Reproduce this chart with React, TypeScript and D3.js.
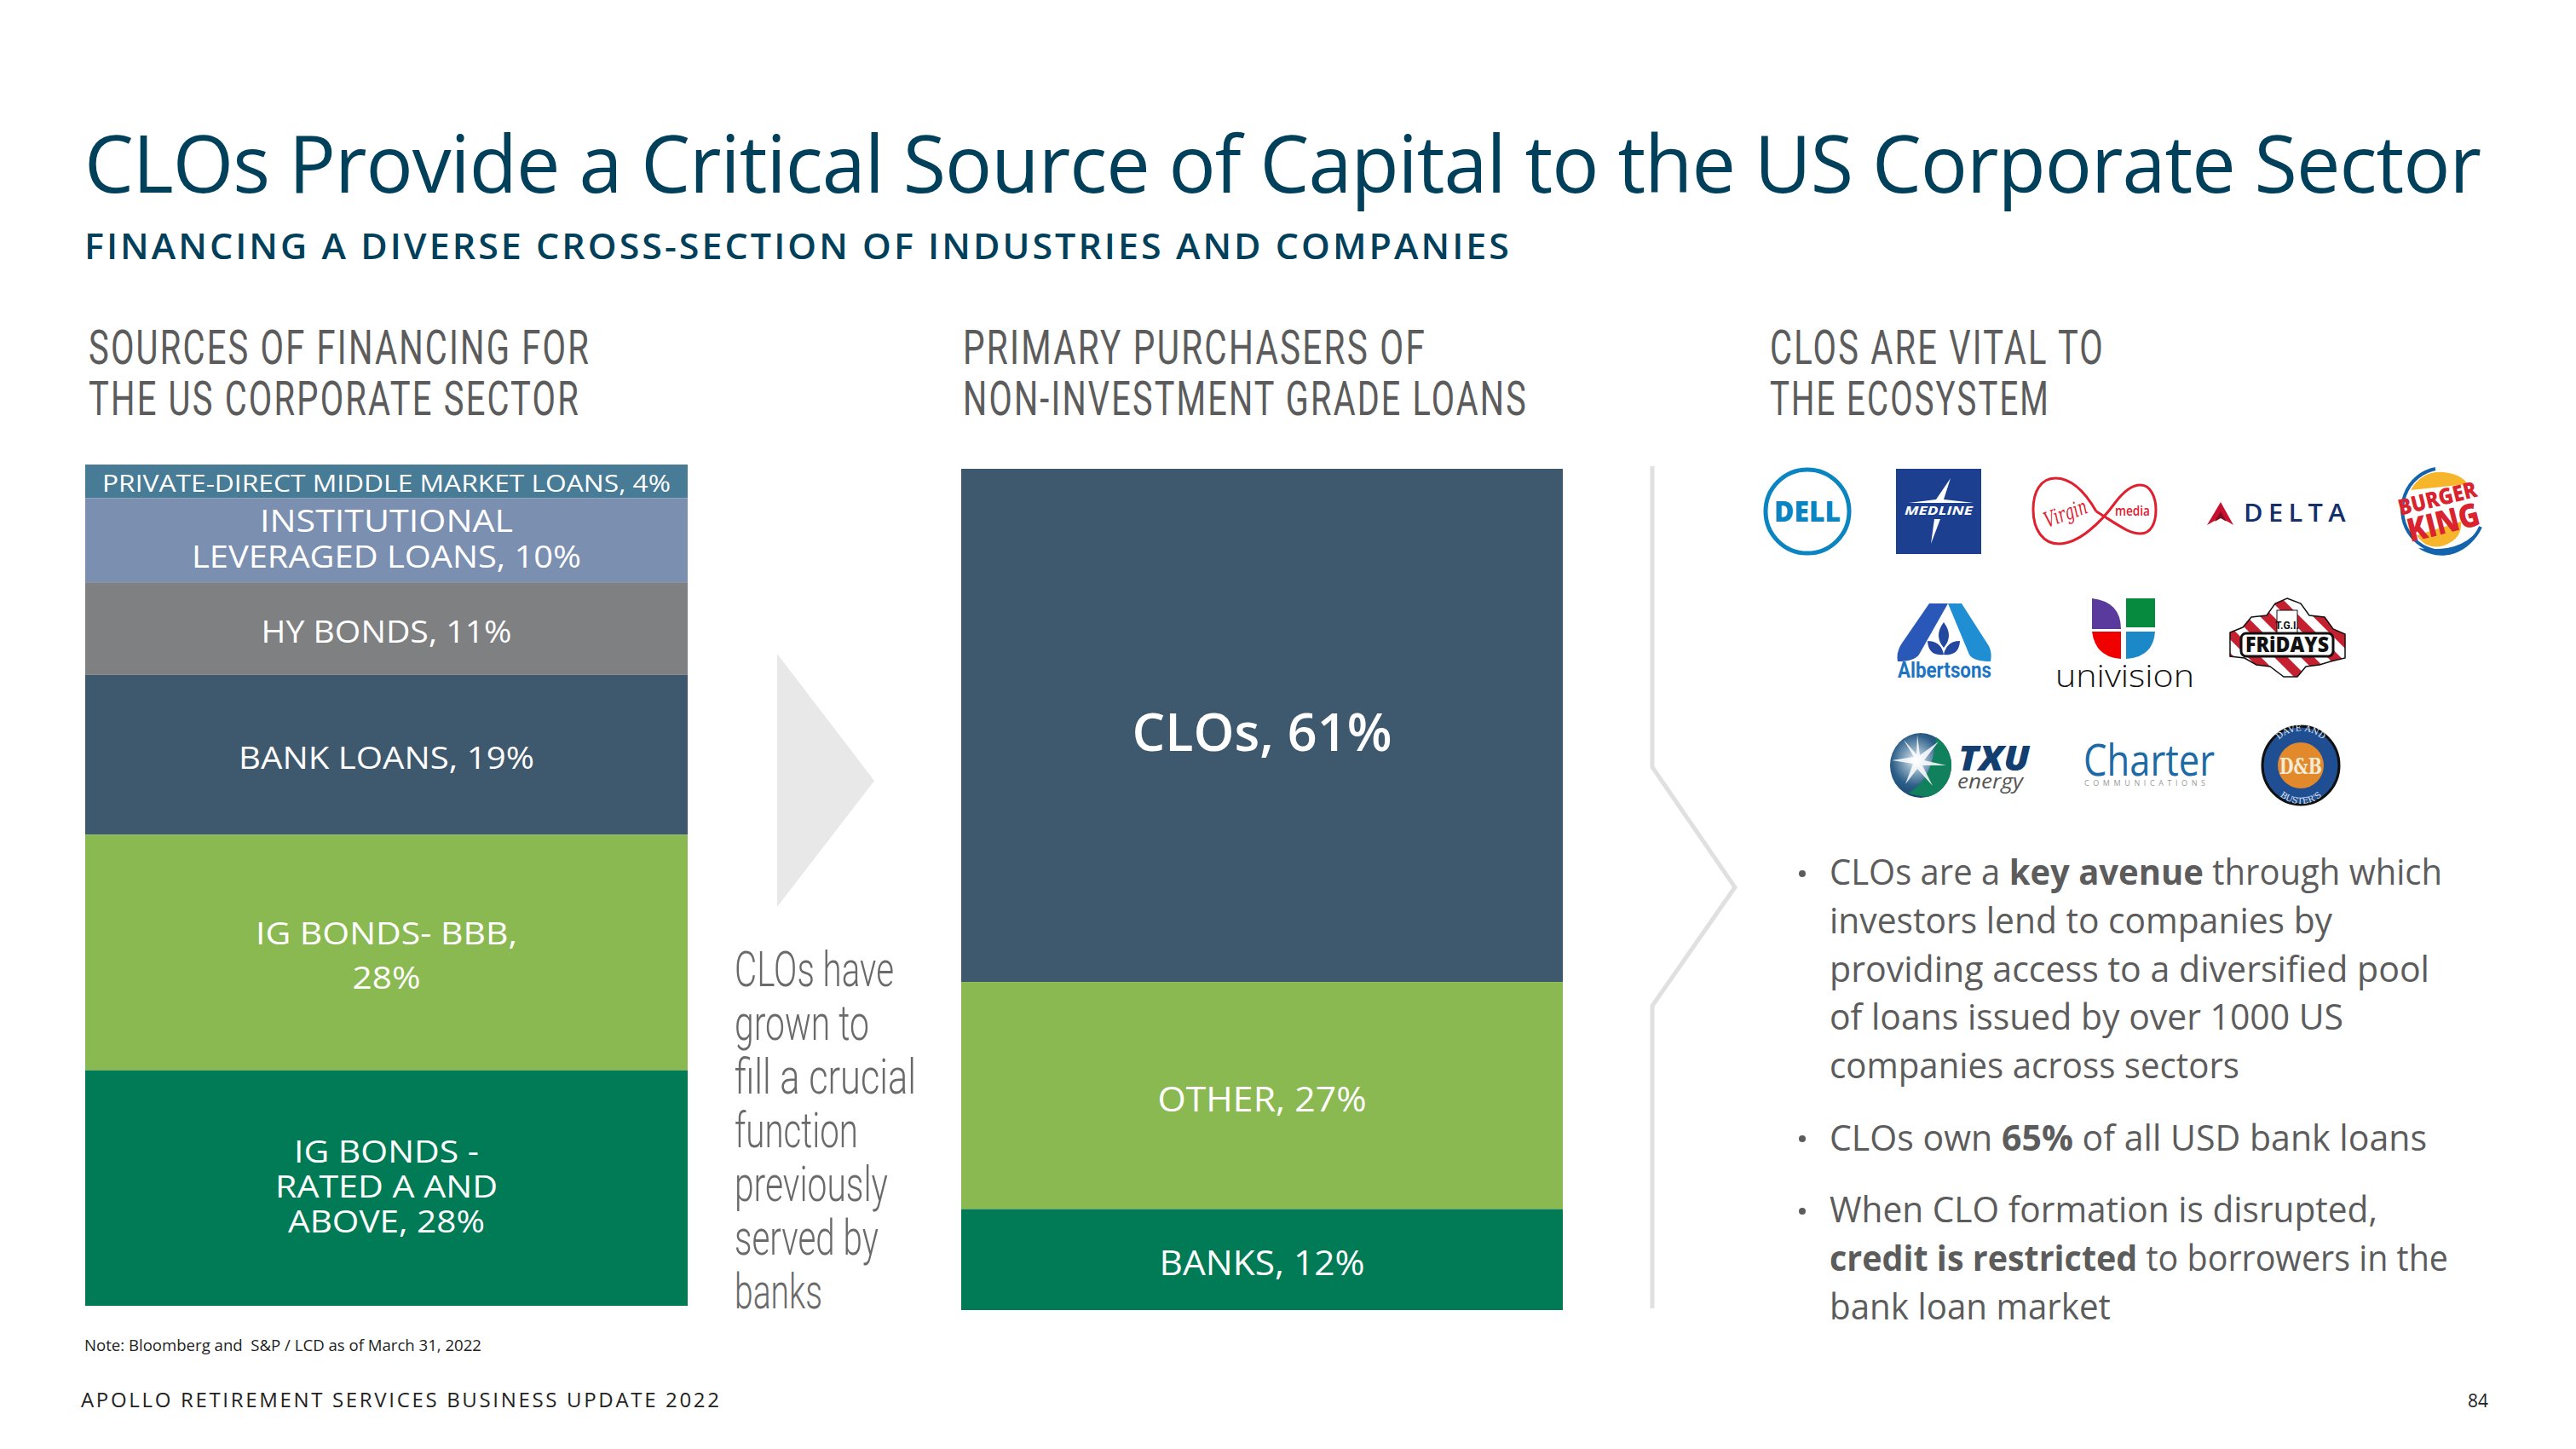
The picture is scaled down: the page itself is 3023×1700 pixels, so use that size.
import React from "react";
import * as d3 from "d3";

// Chart values
const sourceLabels = [
  ["PRIVATE-DIRECT MIDDLE MARKET LOANS, 4%"],
  ["INSTITUTIONAL", "LEVERAGED LOANS, 10%"],
  ["HY BONDS, 11%"],
  ["BANK LOANS, 19%"],
  ["IG BONDS- BBB,", "28%"],
  ["IG BONDS -", "RATED A AND", "ABOVE, 28%"],
];
const sourceValues = [4, 10, 11, 19, 28, 28];
const sourceColors = ["#477b96", "#7b8fb1", "#7f8082", "#3e586d", "#8bb951", "#007b55"];

const purchaserLabels = ["CLOs, 61%", "OTHER, 27%", "BANKS, 12%"];
const purchaserValues = [61, 27, 12];
const purchaserColors = ["#3e586d", "#8bb951", "#007b55"];

const noteLines = ["CLOs have", "grown to", "fill a crucial", "function", "previously", "served by", "banks"];

type Seg = { t: string; b?: boolean };
const bulletLines: Seg[][] = [
  [{ t: "CLOs are a " }, { t: "key avenue", b: true }, { t: " through which" }],
  [{ t: "investors lend to companies by" }],
  [{ t: "providing access to a diversified pool" }],
  [{ t: "of loans issued by over 1000 US" }],
  [{ t: "companies across sectors" }],
  [{ t: "CLOs own " }, { t: "65%", b: true }, { t: " of all USD bank loans" }],
  [{ t: "When CLO formation is disrupted," }],
  [{ t: "credit is restricted", b: true }, { t: " to borrowers in the" }],
  [{ t: "bank loan market" }],
];

// Layout, in page pixels
const W = 3023;
const H = 1700;
const SANS = "'Open Sans', sans-serif";
const NARROW = "'Liberation Sans Narrow', 'Roboto', sans-serif";
const NAVY = "#00405a";
const GREY = "#5c5c5c";

const sourceX = 100;
const sourceW = 707;
const purchaserX = 1128;
const purchaserW = 706;

const sourceY = d3.scaleLinear().domain([0, 100]).range([545, 1532]);
const purchaserY = d3.scaleLinear().domain([0, 100]).range([550, 1537]);

// baseline, text width and size for each line of the bar labels
const sourceLabelLayout = [
  [{ y: 577, w: 667, s: 28 }],
  [{ y: 624, w: 297, s: 37 }, { y: 666, w: 457, s: 37 }],
  [{ y: 754, w: 294, s: 37 }],
  [{ y: 902, w: 347, s: 37 }],
  [{ y: 1108, w: 307, s: 37 }, { y: 1160, w: 80, s: 37 }],
  [{ y: 1364, w: 217, s: 37 }, { y: 1405, w: 261, s: 37 }, { y: 1446, w: 231, s: 37 }],
];
const purchaserLabelLayout = [
  { y: 881, w: 305, s: 62 },
  { y: 1304, w: 245, s: 40 },
  { y: 1496, w: 241, s: 40 },
];
const noteLayout = [
  { y: 1157, w: 187 },
  { y: 1220, w: 158 },
  { y: 1283, w: 213 },
  { y: 1346, w: 145 },
  { y: 1409, w: 180 },
  { y: 1472, w: 169 },
  { y: 1535, w: 103 },
];
const bulletLayout = [
  { y: 1038, w: 719 },
  { y: 1095, w: 590 },
  { y: 1152, w: 704 },
  { y: 1208, w: 603 },
  { y: 1265, w: 481 },
  { y: 1350, w: 701 },
  { y: 1434, w: 643 },
  { y: 1491, w: 726 },
  { y: 1548, w: 330 },
];

function stackOf(values: number[]) {
  const ends = Array.from(d3.cumsum(values));
  return values.map((v, i) => ({ start: ends[i] - v, end: ends[i] }));
}

interface FitProps {
  x: number;
  y: number;
  w: number;
  size: number;
  fill?: string;
  weight?: number;
  family?: string;
  spacing?: number;
  anchor?: "start" | "middle";
  children: React.ReactNode;
}

// text squeezed to the width measured on the slide
const Fit: React.FC<FitProps> = ({ x, y, w, size, fill = "#fff", weight = 400, family = SANS, spacing = 0, anchor = "start", children }) => (
  <text
    x={x}
    y={y}
    fontSize={size}
    fontFamily={family}
    fontWeight={weight}
    fill={fill}
    letterSpacing={spacing}
    textAnchor={anchor}
    textLength={w}
    lengthAdjust="spacingAndGlyphs"
    style={{ whiteSpace: "pre" }}
  >
    {children}
  </text>
);

const FRIDAYS_BADGE =
  "M2684 702 L2700 708 L2710 722 L2728 724 L2738 738 L2752 744 L2752 772 L2735 776 L2722 780 L2706 782 L2696 794 L2680 794 L2664 782 L2648 780 L2634 772 L2617 770 L2617 742 L2632 736 L2642 724 L2660 722 L2670 708 Z";

const Logos: React.FC = () => (
  <g>
    <defs>
      <clipPath id="uni-a">
        <path d="M2455 702 q34 4 34 42 v-2 h-34 z" />
      </clipPath>
      <radialGradient id="txu" cx="0.42" cy="0.42" r="0.65">
        <stop offset="0" stopColor="#ffffff" />
        <stop offset="0.22" stopColor="#9db8cc" />
        <stop offset="0.6" stopColor="#2d5f88" />
        <stop offset="1" stopColor="#123f66" />
      </radialGradient>
      <pattern id="fridayStripes" width={22} height={22} patternUnits="userSpaceOnUse" patternTransform="rotate(-45)">
        <rect width={22} height={22} fill="#fff" />
        <rect width={11} height={22} fill="#c5202f" />
      </pattern>
    </defs>

    {/* Dell */}
    <circle cx={2121} cy={600} r={49} fill="#fff" stroke="#0a85c2" strokeWidth={5} />
    <text x={2121} y={612} textAnchor="middle" fontFamily={SANS} fontWeight={800} fontSize={34} fill="#0a85c2" textLength={78} lengthAdjust="spacingAndGlyphs">DELL</text>

    {/* Medline */}
    <rect x={2225} y={550} width={100} height={100} fill="#1c3f8f" />
    <path d="M2289 561 L2281 586 L2316 590 L2240 590 L2272 586 Z M2266 638 L2270 609 L2277 609 Z" fill="#fff" />
    <text x={2275} y={604} textAnchor="middle" fontFamily={SANS} fontStyle="italic" fontWeight={700} fontSize={15} fill="#fff" textLength={80} lengthAdjust="spacingAndGlyphs">MEDLINE</text>

    {/* Virgin media */}
    <path
      d="M2460 600 C2444 572 2428 561 2412 561 C2394 561 2386 578 2386 598 C2386 622 2398 638 2416 638 C2440 638 2466 612 2482 590 C2494 574 2505 569 2512 569 C2524 569 2530 584 2530 598 C2530 614 2524 626 2512 626 C2498 626 2486 616 2460 600"
      fill="none"
      stroke="#e0202f"
      strokeWidth={3}
    />
    <text x={2397} y={612} fontFamily="'DejaVu Serif', serif" fontStyle="italic" fontSize={25} fill="#e0202f" textLength={52} lengthAdjust="spacingAndGlyphs" transform="rotate(-20 2420 600)">Virgin</text>
    <text x={2482} y={605} fontFamily={SANS} fontWeight={600} fontSize={16} fill="#e0202f" textLength={41} lengthAdjust="spacingAndGlyphs">media</text>

    {/* Delta */}
    <path d="M2606 589 L2621 616 L2606 607 L2590 616 Z" fill="#c8102e" />
    <path d="M2606 600 L2613 612 L2606 608 L2599 612 Z" fill="#7a1020" />
    <text x={2633} y={612} fontFamily={SANS} fontWeight={600} fontSize={29} fill="#14306b" letterSpacing={6} textLength={126} lengthAdjust="spacingAndGlyphs">DELTA</text>

    {/* Burger King */}
    <path d="M2858 550 A48 49 0 1 0 2911 618" fill="none" stroke="#1464ad" strokeWidth={4} />
    <path d="M2911 618 A48 49 0 0 1 2838 643 Q2890 650 2911 618 Z" fill="#1464ad" />
    <path d="M2829 575 Q2842 552 2868 554 Q2888 556 2896 568 Z" fill="#f7b52c" />
    <path d="M2836 628 L2888 612 Q2890 632 2868 640 Q2848 646 2836 628 Z" fill="#f7b52c" />
    <g transform="rotate(-14 2862 600)" fontFamily={SANS} fontWeight={800} fill="#d9232e">
      <text x={2864} y={594} textAnchor="middle" fontSize={26} textLength={94} lengthAdjust="spacingAndGlyphs">BURGER</text>
      <text x={2864} y={627} textAnchor="middle" fontSize={38} textLength={86} lengthAdjust="spacingAndGlyphs">KING</text>
    </g>

    {/* Albertsons */}
    <path d="M2264 708 h22 l-34 60 q-6 8 -25 8 q-2 -10 4 -20 z" fill="#2a58b8" />
    <path d="M2286 708 h16 l32 50 q4 8 2 18 q-20 0 -25 -8 z" fill="#1f8ed3" />
    <path d="M2281 730 q12 16 0 30 q-12 -14 0 -30 z M2262 752 q16 0 19 16 q-18 2 -19 -16 z M2300 752 q-16 0 -19 16 q18 2 19 -16 z" fill="#24479f" />
    <text x={2227} y={795} fontFamily={NARROW} fontWeight={700} fontSize={26} fill="#1d74c4" textLength={110} lengthAdjust="spacingAndGlyphs">Albertsons</text>

    {/* Univision */}
    <path d="M2455 702 q34 4 34 36 h-34 z" fill="#5a3a9d" />
    <rect x={2495} y={702} width={34} height={34} fill="#058a3e" />
    <path d="M2455 741 h34 v32 q-30 -2 -34 -32 z" fill="#f00000" />
    <path d="M2495 741 h34 q-2 30 -34 32 z" fill="#1b88c8" />
    <text x={2412} y={806} fontFamily={SANS} fontWeight={300} fontSize={36} fill="#111" textLength={163} lengthAdjust="spacingAndGlyphs">univision</text>

    {/* TGI Fridays */}
    <path d={FRIDAYS_BADGE} fill="url(#fridayStripes)" stroke="#111" strokeWidth={1.5} />
    <rect x={2672} y={716} width={24} height={30} fill="#fff" stroke="#111" strokeWidth={1} />
    <rect x={2630} y={743} width={108} height={27} rx={6} fill="#fff" stroke="#111" strokeWidth={3} />
    <text x={2684} y={738} textAnchor="middle" fontFamily={NARROW} fontWeight={700} fontSize={12} fill="#111">T.G.I.</text>
    <text x={2684} y={765} textAnchor="middle" fontFamily={SANS} fontWeight={800} fontSize={24} fill="#111" textLength={98} lengthAdjust="spacingAndGlyphs">FRiDAYS</text>

    {/* TXU */}
    <ellipse cx={2254} cy={898} rx={36} ry={38} fill="url(#txu)" />
    <path d="M2272 865 A36 38 0 0 1 2262 935 Q2240 932 2240 930 Q2268 915 2272 865 Z" fill="#11805c" />
    <path d="M2250 862 L2253 886 L2275 870 L2258 892 L2284 898 L2256 898 L2268 922 L2250 902 L2236 920 L2245 896 L2220 892 L2246 888 L2234 868 L2249 885 Z" fill="#fff" opacity={0.85} />
    <text x={2298} y={904} fontFamily={SANS} fontStyle="italic" fontWeight={800} fontSize={40} fill="#123f70" textLength={84} lengthAdjust="spacingAndGlyphs">TXU</text>
    <text x={2297} y={925} fontFamily={SANS} fontStyle="italic" fontSize={24} fill="#555" textLength={77} lengthAdjust="spacingAndGlyphs">energy</text>

    {/* Charter */}
    <text x={2445} y={910} fontFamily={SANS} fontWeight={500} fontSize={52} fill="#1d6aa5" textLength={154} lengthAdjust="spacingAndGlyphs">Charter</text>
    <text x={2446} y={922} fontFamily={SANS} fontSize={9} fill="#9a9a9a" textLength={142}>COMMUNICATIONS</text>

    {/* Dave & Buster's */}
    <ellipse cx={2700} cy={898} rx={45} ry={46} fill="#1f4e92" stroke="#111" strokeWidth={3} />
    <circle cx={2700} cy={898} r={27} fill="#e28a2b" />
    <text x={2700} y={908} textAnchor="middle" fontFamily="'DejaVu Serif', serif" fontWeight={700} fontSize={26} fill="#f4ead6" textLength={50} lengthAdjust="spacingAndGlyphs">D&amp;B</text>
    <path id="dbTop" d="M2665 885 A36 36 0 0 1 2735 885" fill="none" />
    <path id="dbBottom" d="M2662 905 A38 38 0 0 0 2738 905" fill="none" />
    <text fontFamily="'DejaVu Serif', serif" fontSize={10} fill="#dfe7f2"><textPath href="#dbTop" startOffset="50%" textAnchor="middle">DAVE AND</textPath></text>
    <text fontFamily="'DejaVu Serif', serif" fontSize={10} fill="#dfe7f2"><textPath href="#dbBottom" startOffset="50%" textAnchor="middle">BUSTER'S</textPath></text>
  </g>
);

export default function App() {
  const sourceBands = stackOf(sourceValues);
  const purchaserBands = stackOf(purchaserValues);
  const sourceMid = sourceX + sourceW / 2;
  const purchaserMid = purchaserX + purchaserW / 2;
  const divider = d3.line()([
    [1939, 547],
    [1939, 900],
    [2036, 1041],
    [1939, 1180],
    [1939, 1535],
  ]) as string;

  return (
    <svg width={W} height={H} viewBox={`0 0 ${W} ${H}`} style={{ position: "absolute", left: 0, top: 0, display: "block", background: "#fff" }}>
      <Fit x={99} y={226} w={2812} size={94} fill={NAVY} spacing={-1}>CLOs Provide a Critical Source of Capital to the US Corporate Sector</Fit>
      <Fit x={99} y={304} w={1675} size={42} fill={NAVY} weight={600} spacing={3}>FINANCING A DIVERSE CROSS-SECTION OF INDUSTRIES AND COMPANIES</Fit>

      <Fit x={104} y={427} w={589} size={55} fill={GREY} family={NARROW} spacing={3}>SOURCES OF FINANCING FOR</Fit>
      <Fit x={104} y={487} w={577} size={55} fill={GREY} family={NARROW} spacing={3}>THE US CORPORATE SECTOR</Fit>
      <Fit x={1130} y={427} w={544} size={55} fill={GREY} family={NARROW} spacing={3}>PRIMARY PURCHASERS OF</Fit>
      <Fit x={1130} y={487} w={663} size={55} fill={GREY} family={NARROW} spacing={3}>NON-INVESTMENT GRADE LOANS</Fit>
      <Fit x={2077} y={427} w={393} size={55} fill={GREY} family={NARROW} spacing={3}>CLOS ARE VITAL TO</Fit>
      <Fit x={2077} y={487} w={329} size={55} fill={GREY} family={NARROW} spacing={3}>THE ECOSYSTEM</Fit>

      {sourceBands.map((b, i) => (
        <rect key={i} x={sourceX} y={sourceY(b.start)} width={sourceW} height={sourceY(b.end) - sourceY(b.start)} fill={sourceColors[i]} />
      ))}
      {sourceLabels.map((lines, i) =>
        lines.map((line, j) => {
          const l = sourceLabelLayout[i][j];
          return (
            <Fit key={line} x={sourceMid} y={l.y} w={l.w} size={l.s} weight={500} anchor="middle">
              {line}
            </Fit>
          );
        })
      )}

      <path d="M912 767 L1026 916 L912 1064 Z" fill="#e8e8e8" />
      {noteLines.map((line, i) => (
        <Fit key={line} x={862} y={noteLayout[i].y} w={noteLayout[i].w} size={58} fill="#6a6a6a" family="Roboto, sans-serif" weight={300}>
          {line}
        </Fit>
      ))}

      {purchaserBands.map((b, i) => (
        <rect key={i} x={purchaserX} y={purchaserY(b.start)} width={purchaserW} height={purchaserY(b.end) - purchaserY(b.start)} fill={purchaserColors[i]} />
      ))}
      {purchaserLabels.map((label, i) => {
        const l = purchaserLabelLayout[i];
        return (
          <Fit key={label} x={purchaserMid} y={l.y} w={l.w} size={l.s} anchor="middle" weight={i === 0 ? 600 : 500}>
            {label}
          </Fit>
        );
      })}

      <path d={divider} fill="none" stroke="#e0e0e0" strokeWidth={5} />
      <Logos />

      {[1025, 1336, 1421].map((cy) => (
        <circle key={cy} cx={2115} cy={cy} r={4} fill={GREY} />
      ))}
      {bulletLines.map((segs, i) => (
        <Fit key={i} x={2147} y={bulletLayout[i].y} w={bulletLayout[i].w} size={42} fill={GREY}>
          {segs.map((s, j) => (
            <tspan key={j} fontWeight={s.b ? 700 : 400}>
              {s.t}
            </tspan>
          ))}
        </Fit>
      ))}

      <Fit x={99} y={1585} w={466} size={19} fill="#222">Note: Bloomberg and  S&amp;P / LCD as of March 31, 2022</Fit>
      <text x={95} y={1651} fontSize={24} fontFamily={SANS} fill="#222" textLength={749}>APOLLO RETIREMENT SERVICES BUSINESS UPDATE 2022</text>
      <Fit x={2896} y={1651} w={24} size={22} fill="#222">84</Fit>
    </svg>
  );
}
